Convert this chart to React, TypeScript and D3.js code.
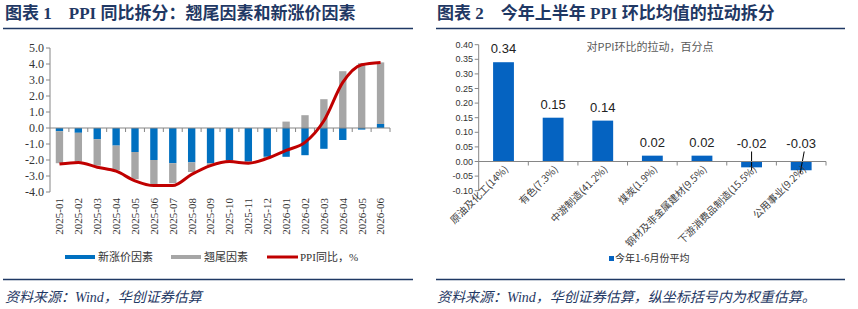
import React from "react";
import * as d3 from "d3";

// 图表1：PPI 同比拆分
const months = [
  "2025-01", "2025-02", "2025-03", "2025-04", "2025-05", "2025-06",
  "2025-07", "2025-08", "2025-09", "2025-10", "2025-11", "2025-12",
  "2026-01", "2026-02", "2026-03", "2026-04", "2026-05", "2026-06",
];
const newFactor = [
  -0.2, -0.3, -0.7, -1.1, -1.5, -2.0, -2.2, -2.15, -2.2, -2.0, -2.1, -1.8,
  -1.8, -1.7, -1.3, -0.75, -0.1, 0.25,
];
const carryFactor = [
  -2.0, -1.8, -1.65, -1.55, -1.7, -1.5, -1.25, -0.6, -0.15, -0.1, -0.1, -0.1,
  0.4, 0.8, 1.8, 3.55, 4.05, 3.85,
];
const ppiYoY = [
  -2.25, -2.15, -2.45, -2.7, -3.3, -3.6, -3.6, -2.9, -2.35, -2.1, -2.2, -1.9,
  -1.4, -0.9, 0.45, 2.85, 3.95, 4.1,
];
const leftTicks = [-4, -3, -2, -1, 0, 1, 2, 3, 4, 5];

// 图表2：PPI 环比均值的拉动拆分
const sectors = [
  "原油及化工(14%)", "有色(7.3%)", "中游制造(41.2%)", "煤炭(1.9%)",
  "钢材及非金属建材(9.5%)", "下游消费品制造(15.5%)", "公用事业(9.2%)",
];
const pull = [0.34, 0.15, 0.14, 0.02, 0.02, -0.02, -0.03];
const rightTicks = [-0.1, -0.05, 0, 0.05, 0.1, 0.15, 0.2, 0.25, 0.3, 0.35, 0.4];

const NAVY = "#1F3864";
const BLUE = "#0070C0";
const GREY = "#A6A6A6";
const RED = "#C00000";
const AXIS = "#868686";
const SERIF = "'Liberation Serif', 'Noto Sans CJK SC', serif";
const SANS = "'Liberation Sans', 'Noto Sans CJK SC', sans-serif";
const CJK = "'Noto Sans CJK SC', sans-serif";

function LeftChart() {
  const x = d3.scaleBand<string>().domain(months).range([50, 390]);
  const y = d3.scaleLinear().domain([-4, 5]).range([192, 48]);
  const bw = x.bandwidth() * 0.39;
  const rows = months.map((m, i) => ({ m, a: newFactor[i], b: carryFactor[i] }));
  const series = d3
    .stack<any>()
    .keys(["a", "b"])
    .offset(d3.stackOffsetDiverging)(rows);
  const colors = [BLUE, GREY];
  const line = d3
    .line<number>()
    .x((_, i) => x(months[i])! + x.bandwidth() / 2)
    .y((d) => y(d))
    .curve(d3.curveMonotoneX);

  return (
    <g>
      {leftTicks.map((t) => (
        <g key={t}>
          <line x1={46} x2={50} y1={y(t)} y2={y(t)} stroke={AXIS} />
          <text x={44} y={y(t)} dy="0.35em" textAnchor="end" fontSize={12} fontFamily={SERIF} fill="#333">
            {t.toFixed(1)}
          </text>
        </g>
      ))}
      <line x1={50} x2={50} y1={y(-4)} y2={y(5)} stroke={AXIS} />
      {series.map((s, k) =>
        s.map((d, i) => (
          <rect
            key={k + "-" + i}
            x={x(months[i])! + (x.bandwidth() - bw) / 2}
            y={y(Math.max(d[0], d[1]))}
            width={bw}
            height={Math.abs(y(d[0]) - y(d[1]))}
            fill={colors[k]}
          />
        ))
      )}
      <line x1={50} x2={390} y1={y(0)} y2={y(0)} stroke={AXIS} />
      {months.map((m, i) => (
        <line key={m} x1={x(m)! + x.bandwidth()} x2={x(m)! + x.bandwidth()} y1={y(0)} y2={y(0) + 4} stroke={AXIS} />
      ))}
      <path d={line(ppiYoY) || ""} fill="none" stroke={RED} strokeWidth={3} />
      {months.map((m) => (
        <text
          key={m}
          transform={`translate(${x(m)! + x.bandwidth() / 2},198) rotate(-90)`}
          textAnchor="end"
          dy="0.35em"
          fontSize={11}
          fontFamily={SERIF}
          fill="#333"
        >
          {m}
        </text>
      ))}
      {/* 图例 */}
      <rect x={65} y={255} width={30} height={4} fill={BLUE} />
      <text x={98} y={261} fontSize={11} fontFamily={CJK} fill="#333">新涨价因素</text>
      <rect x={171} y={255} width={30} height={4} fill={GREY} />
      <text x={204} y={261} fontSize={11} fontFamily={CJK} fill="#333">翘尾因素</text>
      <line x1={267} x2={298} y1={257} y2={257} stroke={RED} strokeWidth={3} />
      <text x={300} y={261} fontSize={11} fontFamily={SERIF} fill="#333">PPI同比，%</text>
    </g>
  );
}

function RightChart() {
  const x = d3.scaleBand<string>().domain(sectors).range([478.7, 826]);
  const y = d3.scaleLinear().domain([-0.1, 0.4]).range([190.7, 44.7]);
  const bw = x.bandwidth() * 0.42;
  const y0 = y(0);

  return (
    <g>
      {rightTicks.map((t) => (
        <g key={t}>
          <line x1={474.7} x2={478.7} y1={y(t)} y2={y(t)} stroke={AXIS} />
          <text x={473} y={y(t)} dy="0.35em" textAnchor="end" fontSize={9} fontFamily={SANS} fill="#333">
            {t.toFixed(2)}
          </text>
        </g>
      ))}
      <line x1={478.7} x2={478.7} y1={y(-0.1)} y2={y(0.4)} stroke={AXIS} />
      <text x={650} y={51} textAnchor="middle" fontSize={11} fontFamily={CJK} fill="#595959">
        对PPI环比的拉动，百分点
      </text>
      {sectors.map((s, i) => {
        const cx = x(s)! + x.bandwidth() / 2;
        const v = pull[i];
        const neg = v < 0;
        return (
          <g key={s}>
            <rect
              x={cx - bw / 2}
              y={y(Math.max(0, v))}
              width={bw}
              height={Math.abs(y(v) - y0)}
              fill="#0563C1"
            />
            <text
              x={cx}
              y={neg ? y0 - 14 : y(v) - 9}
              textAnchor="middle"
              fontSize={13}
              fontFamily={SANS}
              fill="#222"
            >
              {v.toFixed(2)}
            </text>
            {neg && (
              <line
                x1={cx + (i === 6 ? 3 : 0)}
                x2={cx + (i === 6 ? -1 : 0)}
                y1={y0 - 10}
                y2={y(v) + 3}
                stroke="#000"
                strokeWidth={1}
              />
            )}
            <text
              transform={`translate(${cx + 3},${y0 + 6}) rotate(-45)`}
              textAnchor="end"
              dy="0.35em"
              fontSize={10}
              fontFamily={CJK}
              fill="#404040"
            >
              {s}
            </text>
          </g>
        );
      })}
      <line x1={478.7} x2={826} y1={y0} y2={y0} stroke={AXIS} />
      {sectors.map((s) => (
        <line key={s} x1={x(s)! + x.bandwidth()} x2={x(s)! + x.bandwidth()} y1={y0} y2={y0 + 4} stroke={AXIS} />
      ))}
      {/* 图例 */}
      <rect x={609} y={256} width={5} height={5} fill="#0563C1" />
      <text x={615} y={262} fontSize={10} fontFamily={CJK} fill="#333">今年1-6月份平均</text>
    </g>
  );
}

export default function App() {
  return (
    <svg
      width={858}
      height={309}
      style={{ position: "absolute", left: 0, top: 0, background: "#fff" }}
    >
      {/* 标题 */}
      <text x={5} y={19} fontSize={17} fontWeight="bold" fontFamily={SERIF} fill={NAVY}>
        图表 1　PPI 同比拆分：翘尾因素和新涨价因素
      </text>
      <text x={437} y={19} fontSize={17} fontWeight="bold" fontFamily={SERIF} fill={NAVY}>
        图表 2　今年上半年 PPI 环比均值的拉动拆分
      </text>
      <line x1={3} x2={413} y1={28.5} y2={28.5} stroke={NAVY} strokeWidth={1.5} />
      <line x1={436} x2={845} y1={28.5} y2={28.5} stroke={NAVY} strokeWidth={1.5} />

      <LeftChart />
      <RightChart />

      <line x1={3} x2={413} y1={279.5} y2={279.5} stroke={NAVY} strokeWidth={1.5} />
      <line x1={436} x2={845} y1={279.5} y2={279.5} stroke={NAVY} strokeWidth={1.5} />
      <text x={5} y={302} fontSize={14} fontStyle="italic" fontFamily={SERIF} fill={NAVY}>
        资料来源：Wind，华创证券估算
      </text>
      <text x={437} y={302} fontSize={14} fontStyle="italic" fontFamily={SERIF} fill={NAVY}>
        资料来源：Wind，华创证券估算，纵坐标括号内为权重估算。
      </text>
    </svg>
  );
}
